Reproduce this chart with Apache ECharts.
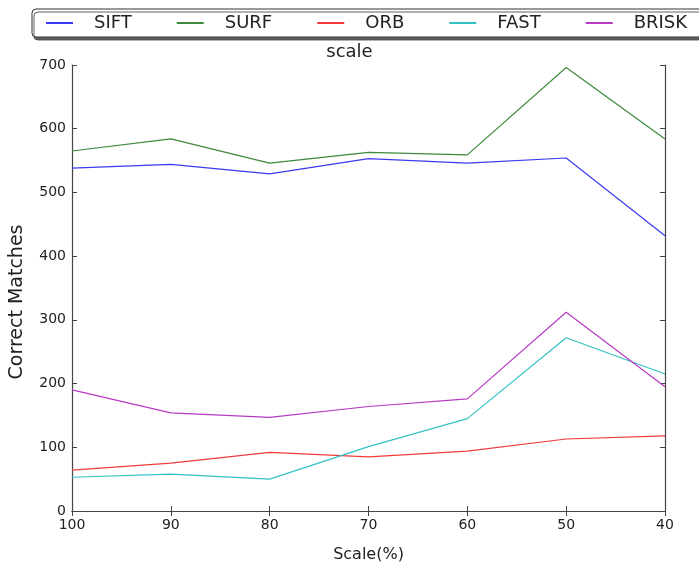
<!DOCTYPE html>
<html>
<head>
<meta charset="utf-8">
<script src="https://cdn.jsdelivr.net/npm/echarts@6/dist/echarts.min.js"></script>
<style>
    html, body { margin: 0; padding: 0; background: #fff; }
    #scaleChart { width: 699px; height: 568px; }
</style>
</head>
<body>
<div id="scaleChart"></div>
<script>
var scaleLabels = ['100', '90', '80', '70', '60', '50', '40'];
var siftData  = [538, 544, 529, 553, 546, 554, 432];
var surfData  = [565, 584, 546, 563, 559, 696, 584];
var orbData   = [64, 75, 92, 85, 94, 113, 118];
var fastData  = [53, 58, 50, 101, 145, 272, 215];
var briskData = [190, 154, 147, 164, 176, 312, 195];
var yTicks = [0, 100, 200, 300, 400, 500, 600, 700];

var font = 'DejaVu Sans';
var axisColor = '#444';

var makeLine = function (name, data, color) {
    return {
        name: name,
        type: 'line',
        symbol: 'none',
        data: data,
        lineStyle: { color: color, width: 1.2 },
        itemStyle: { color: color }
    };
};

var myChart = echarts.init(document.getElementById('scaleChart'));
var option = {
    animation: false,
    backgroundColor: '#fff',
    title: {
        text: 'scale',
        left: 'center',
        top: 38,
        textStyle: { fontFamily: font, fontSize: 18, fontWeight: 'normal', color: '#222' }
    },
    legend: {
        left: 32,
        top: 9,
        width: 700,
        padding: [5, 24, 5, 14],
        itemGap: 45,
        itemWidth: 27,
        itemHeight: 2,
        icon: 'rect',
        backgroundColor: '#fff',
        borderColor: '#333',
        borderWidth: 1,
        borderRadius: 4,
        shadowColor: 'rgba(60,60,60,0.8)',
        shadowBlur: 0,
        shadowOffsetX: 2,
        shadowOffsetY: 3,
        textStyle: { fontFamily: font, fontSize: 18, color: '#222', padding: [0, 0, 0, 16] },
        data: ['SIFT', 'SURF', 'ORB', 'FAST', 'BRISK']
    },
    grid: { left: 72, right: 34, top: 65, bottom: 45 },
    xAxis: [
        {
            type: 'category',
            boundaryGap: false,
            data: scaleLabels,
            name: 'Scale(%)',
            nameLocation: 'middle',
            nameGap: 36,
            nameTextStyle: { fontFamily: font, fontSize: 16, color: '#222' },
            axisLine: { lineStyle: { color: axisColor, width: 1.2 } },
            axisTick: { inside: true, length: 5, lineStyle: { color: axisColor } },
            axisLabel: { fontFamily: font, fontSize: 14, color: '#222', margin: 7 },
            splitLine: { show: false }
        },
        {
            type: 'category',
            position: 'top',
            boundaryGap: false,
            data: scaleLabels,
            axisLine: { lineStyle: { color: axisColor, width: 1.2 } },
            axisTick: { inside: true, length: 5, lineStyle: { color: axisColor } },
            axisLabel: { show: false },
            splitLine: { show: false }
        }
    ],
    yAxis: [
        {
            type: 'value',
            min: yTicks[0],
            max: yTicks[yTicks.length - 1],
            interval: 100,
            name: 'Correct Matches',
            nameLocation: 'middle',
            nameGap: 45,
            nameTextStyle: { fontFamily: font, fontSize: 19, color: '#222', padding: [0, 28, 0, 0] },
            axisLine: { show: true, lineStyle: { color: axisColor, width: 1.2 } },
            axisTick: { show: true, inside: true, length: 5, lineStyle: { color: axisColor } },
            axisLabel: { fontFamily: font, fontSize: 14, color: '#222', margin: 6 },
            splitLine: { show: false }
        },
        {
            type: 'value',
            position: 'right',
            min: yTicks[0],
            max: yTicks[yTicks.length - 1],
            interval: 100,
            axisLine: { show: true, lineStyle: { color: axisColor, width: 1.2 } },
            axisTick: { show: true, inside: true, length: 5, lineStyle: { color: axisColor } },
            axisLabel: { show: false },
            splitLine: { show: false }
        }
    ],
    series: [
        makeLine('SIFT', siftData, '#3a3af0'),
        makeLine('SURF', surfData, '#3c8a3c'),
        makeLine('ORB', orbData, '#f03a3a'),
        makeLine('FAST', fastData, '#33c2c2'),
        makeLine('BRISK', briskData, '#b83ac4')
    ]
};
myChart.setOption(option);
</script>
</body>
</html>
